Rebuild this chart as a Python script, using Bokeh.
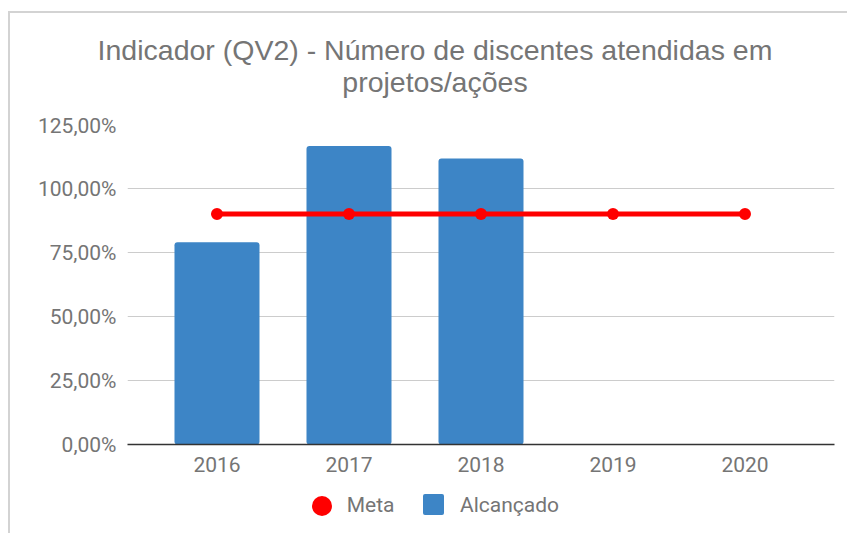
from bokeh.plotting import figure
from bokeh.models import FactorRange, Range1d, FixedTicker, Div
from bokeh.layouts import column
from bokeh.embed import file_html
from bokeh.resources import INLINE

# ---- data ----
years = ["2016", "2017", "2018", "2019", "2020"]
meta = [90, 90, 90, 90, 90]
bar_years = ["2016", "2017", "2018"]
alcancado = [79.0, 116.6, 111.7]
y_ticks = [0, 25, 50, 75, 100, 125]
y_tick_labels = ["0,00%", "25,00%", "50,00%", "75,00%", "100,00%", "125,00%"]
title_lines = ["Indicador (QV2) - Número de discentes atendidas em", "projetos/ações"]
series_names = ["Meta", "Alcançado"]

TEXT = "#757575"
BLUE = "#3d85c6"
RED = "#ff0000"
BORDER = "2px solid #d3d3d3"

# ---- title block (two centred lines) ----
line_css = ("position:absolute;left:13px;width:824px;height:32px;text-align:center;"
            "font-family:'Liberation Sans',Arial,sans-serif;font-size:28.5px;line-height:32px;"
            "color:%s;white-space:nowrap;" % TEXT)
title_html = (
    '<div style="margin:11px 0 0 8px;width:839px;height:102px;box-sizing:border-box;'
    'border-top:%s;border-left:%s;position:relative;">'
    '<div style="%stop:20.6px;">%s</div>'
    '<div style="%stop:52.6px;">%s</div></div>'
) % (BORDER, BORDER, line_css, title_lines[0], line_css, title_lines[1])
title_div = Div(text=title_html, width=847, height=113, margin=(0, 0, 0, 0))

# ---- chart ----
p = figure(
    x_range=FactorRange(factors=years, range_padding=0.178, range_padding_units="absolute"),
    y_range=Range1d(0, 125),
    width=837, height=372,
    output_backend="svg", toolbar_location=None,
    min_border_left=117, min_border_right=13, min_border_top=11, min_border_bottom=41,
    background_fill_color="white", border_fill_color="white",
    margin=(0, 0, 0, 8),
)
p.outline_line_color = None
p.styles = {"border-left": BORDER}

bars = p.vbar(x=bar_years, top=alcancado, width=0.644, fill_color=BLUE, line_color=None,
              border_radius=3)
ln = p.line(x=years, y=meta, line_color=RED, line_width=5)
sc = p.scatter(x=years, y=meta, size=12, fill_color=RED, line_color=None)

# axes
p.yaxis.ticker = FixedTicker(ticks=y_ticks)
p.yaxis.major_label_overrides = dict(zip(y_ticks, y_tick_labels))
p.yaxis.axis_line_color = None
p.yaxis.major_tick_line_color = None
p.yaxis.minor_tick_line_color = None
p.yaxis.major_tick_out = 0
p.yaxis.major_label_standoff = 11
p.xaxis.axis_line_color = "#333333"
p.xaxis.axis_line_width = 1.5
p.xaxis.major_tick_line_color = None
p.xaxis.major_tick_out = 0
p.xaxis.major_label_standoff = 12
for ax in (p.xaxis, p.yaxis):
    ax.major_label_text_font = "Roboto"
    ax.major_label_text_font_size = "21px"
    ax.major_label_text_color = TEXT

p.xgrid.visible = False
p.ygrid.grid_line_color = "#cccccc"
p.ygrid.grid_line_width = 1

# ---- legend block ----
lab_css = ("position:absolute;top:9px;height:22px;line-height:22px;font-family:Roboto,sans-serif;"
           "font-size:21px;color:%s;white-space:nowrap;" % TEXT)
legend_html = (
    '<div style="margin:0 0 0 8px;width:839px;height:48px;box-sizing:border-box;'
    'border-left:%s;position:relative;">'
    '<div style="position:absolute;left:301.7px;top:10.5px;width:20px;height:20px;'
    'border-radius:50%%;background:%s;"></div>'
    '<div style="%sleft:336.7px;">%s</div>'
    '<div style="position:absolute;left:413px;top:9px;width:21px;height:21px;'
    'border-radius:2px;background:%s;"></div>'
    '<div style="%sleft:450px;">%s</div></div>'
) % (BORDER, RED, lab_css, series_names[0], BLUE, lab_css, series_names[1])
legend_div = Div(text=legend_html, width=847, height=48, margin=(0, 0, 0, 0))

layout = column(title_div, p, legend_div, spacing=0)
open("out.html", "w").write(file_html(layout, INLINE))
